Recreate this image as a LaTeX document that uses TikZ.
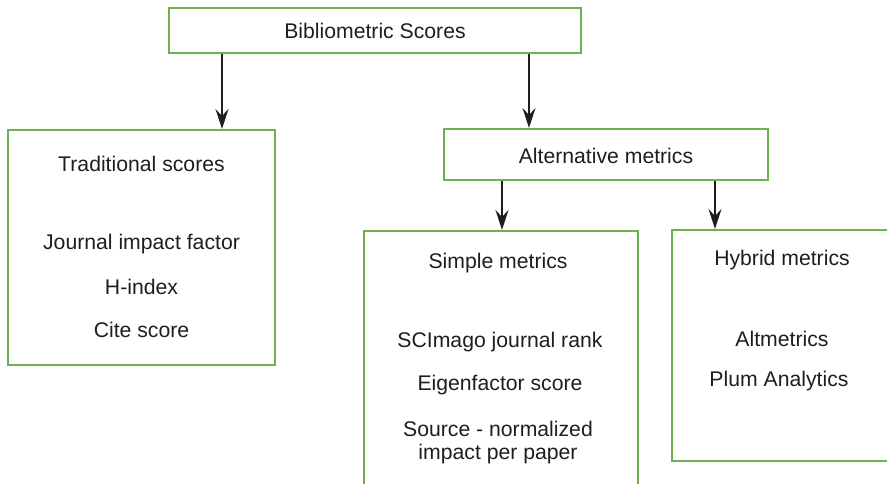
\documentclass[tikz,border=0pt]{standalone}
\usepackage{fontspec}
\setmainfont{Liberation Sans}
\usetikzlibrary{arrows.meta}
\definecolor{boxgreen}{RGB}{108,178,80}
\definecolor{ink}{RGB}{30,30,30}
\tikzset{
  gbox/.style={draw=boxgreen, line width=2pt, rectangle, inner sep=0pt},
  lbl/.style={text=ink, inner sep=0pt, font=\fontsize{21.2}{25}\selectfont},
  arr/.style={draw=ink, line width=1.8pt, -{Stealth[length=20pt, width=13pt, inset=7pt]}}
}
\begin{document}
\begin{tikzpicture}[x=1pt, y=-1pt]
\useasboundingbox (0,0) rectangle (887,484);
% boxes
\node[gbox, minimum width=412pt, minimum height=45pt] (top) at (375,30.5) {};
\node[gbox, minimum width=267pt, minimum height=235pt] (trad) at (141.5,247.5) {};
\node[gbox, minimum width=324pt, minimum height=51pt] (alt) at (606,154.5) {};
\node[gbox, minimum width=274pt, minimum height=270pt] (simple) at (501,366) {};
\node[gbox, minimum width=222pt, minimum height=231pt] (hybrid) at (783,345.5) {};
% texts
\node[lbl] (t0) at (375,30.5) {Bibliometric Scores};
\node[lbl] (t1) at (141.5,164) {Traditional scores};
\node[lbl] (t2) at (141.5,244) {Journal impact factor};
\node[lbl] (t3) at (141.5,287) {H-index};
\node[lbl] (t4) at (141.5,330) {Cite score};
\node[lbl] (t5) at (606,156) {Alternative metrics};
\node[lbl] (t6) at (498,263) {Simple metrics};
\node[lbl] (t7) at (500,342) {SCImago journal rank};
\node[lbl] (t8) at (500,385) {Eigenfactor score};
\node[lbl] (t9) at (498,429) {Source - normalized};
\node[lbl] (t10) at (498,454) {impact per paper};
\node[lbl] (t11) at (782,260) {Hybrid metrics};
\node[lbl] (t12) at (782,339) {Altmetrics};
\node[lbl] (t13) at (779,381) {Plum Analytics};
% connectors
\draw[arr] (top.south -| 222,0) -- (trad.north -| 222,0);
\draw[arr] (top.south -| 529,0) -- (alt.north -| 529,0);
\draw[arr] (alt.south -| 502,0) -- (simple.north -| 502,0);
\draw[arr] (alt.south -| 715,0) -- (hybrid.north -| 715,0);
\end{tikzpicture}
\end{document}
